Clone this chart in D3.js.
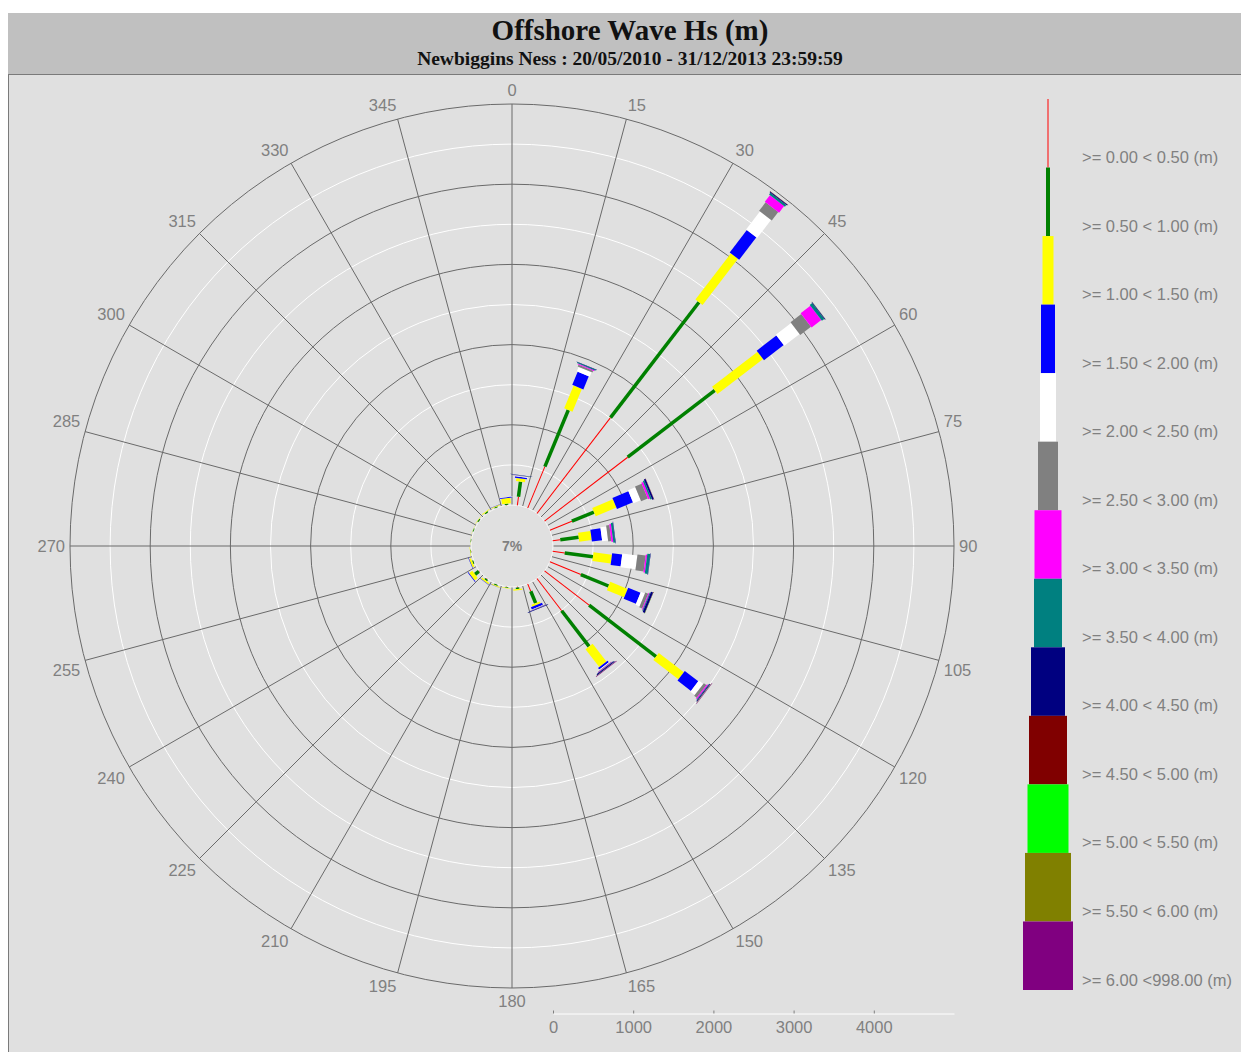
<!DOCTYPE html>
<html>
<head>
<meta charset="utf-8">
<script src="https://cdn.jsdelivr.net/npm/d3@7"></script>
<style>
  body { margin: 0; background: #ffffff; }
  svg { display: block; }
</style>
</head>
<body>
<svg id="chart" width="1241" height="1052"></svg>
<script>
// ---- Data -------------------------------------------------------------
// Direction sectors: centre bearing of each 15° sector (degrees from north)
const directions = [7.5, 22.5, 37.5, 52.5, 67.5, 82.5, 97.5, 112.5, 127.5, 142.5, 157.5, 172.5,
                    187.5, 202.5, 217.5, 232.5, 247.5, 262.5, 277.5, 292.5, 307.5, 322.5, 337.5, 352.5];

// Record counts per Hs class, one value per direction sector
const hs000_050 = [108, 560, 1506, 1307, 297, 96, 152, 418, 701, 506, 100, 10, 5, 5, 8, 10, 5, 3, 2, 2, 3, 3, 4, 5];
const hs050_100 = [190, 764, 1813, 1369, 298, 231, 355, 374, 1052, 561, 160, 20, 10, 15, 20, 60, 15, 8, 6, 10, 15, 18, 12, 15];
const hs100_150 = [39, 309, 726, 716, 280, 157, 232, 234, 394, 282, 25, 15, 5, 10, 20, 50, 25, 5, 2, 3, 5, 8, 10, 70];
const hs150_200 = [20, 177, 352, 310, 216, 128, 126, 167, 212, 25, 30, 0, 0, 3, 5, 8, 5, 0, 0, 0, 0, 0, 2, 10];
const hs200_250 = [8, 60, 283, 241, 99, 74, 189, 54, 69, 10, 5, 0, 0, 0, 0, 0, 0, 0, 0, 0, 0, 0, 0, 5];
const hs250_300 = [5, 25, 133, 168, 90, 40, 103, 40, 40, 8, 5, 0, 0, 0, 0, 0, 0, 0, 0, 0, 0, 0, 0, 0];
const hs300_350 = [2, 12, 104, 153, 25, 22, 18, 12, 15, 5, 3, 0, 0, 0, 0, 0, 0, 0, 0, 0, 0, 0, 0, 0];
const hs350_400 = [4, 12, 27, 38, 20, 25, 37, 10, 8, 4, 3, 0, 0, 0, 0, 0, 0, 0, 0, 0, 0, 0, 0, 0];
const hs400_450 = [3, 4, 12, 8, 22, 5, 5, 28, 10, 12, 6, 0, 0, 0, 0, 0, 0, 0, 0, 0, 0, 0, 0, 0];
const hs450_500 = [0, 0, 2, 2, 3, 0, 0, 2, 3, 2, 0, 0, 0, 0, 0, 0, 0, 0, 0, 0, 0, 0, 0, 0];
const hs500_550 = [0, 0, 1, 1, 0, 0, 0, 1, 2, 1, 0, 0, 0, 0, 0, 0, 0, 0, 0, 0, 0, 0, 0, 0];
const hs550_600 = [0, 0, 0, 0, 0, 0, 0, 0, 2, 1, 0, 0, 0, 0, 0, 0, 0, 0, 0, 0, 0, 0, 0, 0];
const hs600_plus = [0, 0, 0, 0, 0, 0, 0, 0, 5, 6, 0, 0, 0, 0, 0, 0, 0, 0, 0, 0, 0, 0, 0, 0];

const hsClasses = [hs000_050, hs050_100, hs100_150, hs150_200, hs200_250, hs250_300, hs300_350,
                   hs350_400, hs400_450, hs450_500, hs500_550, hs550_600, hs600_plus];

const classLabels = [">= 0.00 < 0.50 (m)", ">= 0.50 < 1.00 (m)", ">= 1.00 < 1.50 (m)", ">= 1.50 < 2.00 (m)",
                     ">= 2.00 < 2.50 (m)", ">= 2.50 < 3.00 (m)", ">= 3.00 < 3.50 (m)", ">= 3.50 < 4.00 (m)",
                     ">= 4.00 < 4.50 (m)", ">= 4.50 < 5.00 (m)", ">= 5.00 < 5.50 (m)", ">= 5.50 < 6.00 (m)",
                     ">= 6.00 <998.00 (m)"];

const compassTicks = [0, 15, 30, 45, 60, 75, 90, 105, 120, 135, 150, 165,
                      180, 195, 210, 225, 240, 255, 270, 285, 300, 315, 330, 345];
const countTicks = [0, 1000, 2000, 3000, 4000];
const calmLabel = "7%";
const titleText = "Offshore Wave Hs (m)";
const subtitleText = "Newbiggins Ness : 20/05/2010 - 31/12/2013 23:59:59";

// ---- Styling ----------------------------------------------------------
const classColors = ["#ff0000", "#008000", "#ffff00", "#0000ff", "#ffffff", "#808080", "#ff00ff",
                     "#008080", "#000080", "#800000", "#00ff00", "#808000", "#800080"];
const petalWidths = [1, 3.5, 9, 12, 14, 16, 18, 20, 22, 23, 24, 25, 26];
const legendWidths = [1, 4, 11, 14, 16, 20, 27, 28, 34, 38, 41, 46, 50];
const greyText = "#808080";
const labelSize = "16.5px";
const sansFont = "'Liberation Sans', Arial, sans-serif";
const serifFont = "'Liberation Serif', 'Times New Roman', serif";

const W = 1241, H = 1052;
const cx = 512, cy = 546;
const holeR = 41, outerR = 442;

const svg = d3.select("#chart");

// ---- Frame: title band and plot panel ----------------------------------
svg.append("rect").attr("x", 8).attr("y", 13).attr("width", W - 8).attr("height", 61).attr("fill", "#c0c0c0");
svg.append("rect").attr("x", 8).attr("y", 74).attr("width", W - 8).attr("height", H - 74).attr("fill", "#e0e0e0");
svg.append("line").attr("x1", 8).attr("x2", W).attr("y1", 74.5).attr("y2", 74.5).attr("stroke", "#7a7a7a");
svg.append("line").attr("x1", 8.5).attr("x2", 8.5).attr("y1", 74).attr("y2", H).attr("stroke", "#7a7a7a");

svg.append("text").attr("x", 630).attr("y", 39.5).attr("text-anchor", "middle")
  .style("font-family", serifFont).style("font-weight", "bold").style("font-size", "29px")
  .attr("fill", "#111").text(titleText);
svg.append("text").attr("x", 630).attr("y", 65).attr("text-anchor", "middle")
  .style("font-family", serifFont).style("font-weight", "bold").style("font-size", "19.5px")
  .attr("fill", "#111").text(subtitleText);

// ---- Radial scale -----------------------------------------------------
const r = d3.scaleLinear().domain([0, 5000]).range([holeR, outerR]);
const rad = d => d * Math.PI / 180;

const rose = svg.append("g").attr("transform", `translate(${cx},${cy})`);

// Concentric rings: white at half-thousands, dark at thousands
const ringValues = d3.range(500, 5001, 500);
rose.selectAll("circle.ring").data(ringValues).join("circle")
  .attr("class", "ring")
  .attr("r", d => r(d))
  .attr("fill", "none")
  .attr("stroke", d => d % 1000 === 0 ? "#6a6a6a" : "#ffffff")
  .attr("stroke-width", 1);

// Sector boundary spokes
rose.selectAll("line.spoke").data(compassTicks).join("line")
  .attr("class", "spoke")
  .attr("x1", d => r(0) * Math.sin(rad(d))).attr("y1", d => -r(0) * Math.cos(rad(d)))
  .attr("x2", d => outerR * Math.sin(rad(d))).attr("y2", d => -outerR * Math.cos(rad(d)))
  .attr("stroke", "#6a6a6a").attr("stroke-width", 1);

// Calm-centre disc
rose.append("circle").attr("r", holeR).attr("fill", "#e0e0e0")
  .attr("stroke", "#f6f6f6").attr("stroke-width", 1);

// ---- Petals: stacked class segments along each sector ------------------
const segments = [];
directions.forEach((dir, i) => {
  let cum = 0;
  hsClasses.forEach((cls, j) => {
    const v = cls[i];
    if (v > 0) segments.push({ dir, j, start: cum, end: cum + v });
    cum += v;
  });
});

rose.selectAll("rect.seg").data(segments).join("rect")
  .attr("class", "seg")
  .attr("transform", d => `rotate(${d.dir})`)
  .attr("x", d => -petalWidths[d.j] / 2)
  .attr("width", d => petalWidths[d.j])
  .attr("y", d => -r(d.end))
  .attr("height", d => r(d.end) - r(d.start))
  .attr("fill", d => classColors[d.j]);

rose.append("text").attr("x", 0).attr("y", 5).attr("text-anchor", "middle")
  .style("font-family", sansFont).style("font-weight", "bold").style("font-size", "14px")
  .attr("fill", greyText).text(calmLabel);

// ---- Compass labels ---------------------------------------------------
const labelR = 447;
rose.selectAll("text.compass").data(compassTicks).join("text")
  .attr("class", "compass")
  .attr("x", d => labelR * Math.sin(rad(d)))
  .attr("y", d => {
    const y = -labelR * Math.cos(rad(d));
    if (d === 90 || d === 270) return y + 6;
    return (d < 90 || d > 270) ? y - 3 : y + 14;
  })
  .attr("text-anchor", d => (d === 0 || d === 180) ? "middle" : (d < 180 ? "start" : "end"))
  .style("font-family", sansFont).style("font-size", labelSize)
  .attr("fill", greyText).text(d => d);

// ---- Count axis below the rose ----------------------------------------
const x = d3.scaleLinear().domain([0, 5000]).range([cx + holeR, cx + outerR]);
const axis = svg.append("g").attr("transform", "translate(0,1013.5)")
  .call(d3.axisBottom(x).tickValues(countTicks).tickFormat(d3.format("d"))
    .tickSizeInner(-3).tickSizeOuter(0).tickPadding(8));
axis.select(".domain").attr("stroke", "#ffffff");
axis.selectAll(".tick line").attr("stroke", "#808080");
axis.selectAll(".tick text").style("font-family", sansFont).style("font-size", labelSize).attr("fill", greyText);

// ---- Legend -----------------------------------------------------------
const ly = d3.scaleBand().domain(classLabels).range([99, 990]);
const legendX = 1048;
const legend = svg.append("g");
legend.selectAll("rect").data(classLabels).join("rect")
  .attr("x", (d, i) => legendX - legendWidths[i] / 2)
  .attr("width", (d, i) => legendWidths[i])
  .attr("y", d => ly(d))
  .attr("height", ly.bandwidth())
  .attr("fill", (d, i) => classColors[i]);
legend.selectAll("text").data(classLabels).join("text")
  .attr("x", 1082)
  .attr("y", d => ly(d) + ly.bandwidth() - 4.5)
  .style("font-family", sansFont).style("font-size", labelSize)
  .attr("fill", greyText).text(d => d);
</script>
</body>
</html>
